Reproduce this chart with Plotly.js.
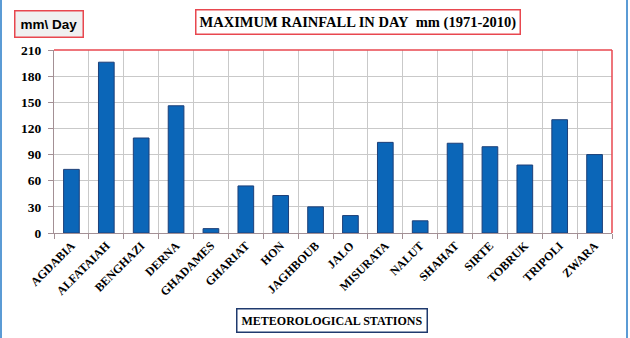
<!DOCTYPE html>
<html>
<head>
<meta charset="utf-8">
<script src="https://cdn.plot.ly/plotly-3.0.1.min.js"></script>
<style>
  html, body { margin: 0; padding: 0; background: #ffffff; }
  #wrap { position: relative; width: 630px; height: 338px; overflow: hidden; }
  #chart { width: 630px; height: 338px; }
  .edge { position: absolute; top: 0; width: 2px; height: 338px; background: #5b9bd5; }
</style>
</head>
<body>
<div id="wrap">
  <div id="chart"></div>
  <div class="edge" style="left:0px"></div>
  <div class="edge" style="left:626px"></div>
</div>
<script>
// Maximum daily rainfall (mm) per meteorological station, 1971-2010
const stations = ["AGDABIA", "ALFATAIAH", "BENGHAZI", "DERNA", "GHADAMES", "GHARIAT",
  "HON", "JAGHBOUB", "JALO", "MISURATA", "NALUT", "SHAHAT", "SIRTE", "TOBRUK",
  "TRIPOLI", "ZWARA"];
const maxRain = [73, 196, 109, 146, 5, 54, 43, 30, 20, 104, 14, 103, 99, 78, 130, 90];
const yTicks = [0, 30, 60, 90, 120, 150, 180, 210];

const serif = "Liberation Serif, Times New Roman, serif";
const gridGray = "#c9c9c9";
const axisGray = "#a39095";
const frameRed = "#e8474f";

const trace = {
  type: "bar",
  x: stations,
  y: maxRain,
  marker: { color: "#0b66b8", line: { color: "#1d3f78", width: 1 } },
  hoverinfo: "x+y"
};

const layout = {
  width: 630,
  height: 338,
  margin: { l: 54, r: 18, t: 50, b: 105 },
  paper_bgcolor: "#ffffff",
  plot_bgcolor: "#ffffff",
  showlegend: false,
  bargap: 0.55,
  xaxis: {
    type: "category",
    tickson: "boundaries",
    ticks: "outside",
    ticklen: 5,
    tickcolor: axisGray,
    showgrid: true,
    gridcolor: gridGray,
    gridwidth: 1,
    showline: true,
    linecolor: axisGray,
    tickangle: -45,
    tickfont: { family: serif, size: 12, color: "#000000", weight: "bold" },
    fixedrange: true
  },
  // secondary axis: gridlines through each category centre
  xaxis2: {
    overlaying: "x",
    anchor: "y",
    range: [-0.5, stations.length - 0.5],
    tick0: 0,
    dtick: 1,
    showgrid: true,
    gridcolor: gridGray,
    gridwidth: 1,
    showticklabels: false,
    ticks: "",
    zeroline: false,
    showline: false,
    fixedrange: true
  },
  yaxis: {
    range: [0, 210],
    tickvals: yTicks,
    ticks: "outside",
    ticklen: 5,
    tickcolor: axisGray,
    ticklabelstandoff: 4,
    showgrid: true,
    gridcolor: gridGray,
    gridwidth: 1,
    showline: true,
    linecolor: axisGray,
    zeroline: false,
    tickfont: { family: serif, size: 13.5, color: "#000000", weight: "bold" },
    fixedrange: true
  },
  shapes: [
    { type: "line", xref: "paper", yref: "paper", x0: 0, x1: 1, y0: 1, y1: 1,
      line: { color: frameRed, width: 1.5 } },
    { type: "line", xref: "paper", yref: "paper", x0: 1, x1: 1, y0: 0, y1: 1,
      line: { color: frameRed, width: 1.5 } }
  ],
  annotations: [
    {
      text: "MAXIMUM RAINFALL IN DAY&nbsp; mm (1971-2010)",
      xref: "paper", yref: "paper", x: 0.544, y: 1.0, yshift: 28,
      xanchor: "center", yanchor: "middle", showarrow: false,
      font: { family: serif, size: 14.5, color: "#000000", weight: "bold" },
      bordercolor: frameRed, borderwidth: 1.5, borderpad: 3, bgcolor: "#ffffff"
    },
    {
      text: "mm\\ Day",
      xref: "paper", yref: "paper", x: -0.071, y: 1.0, yshift: 26,
      xanchor: "left", yanchor: "middle", showarrow: false,
      font: { family: "Liberation Sans, Arial, sans-serif", size: 13.5, color: "#000000", weight: "bold" },
      bordercolor: frameRed, borderwidth: 1.5, borderpad: 5, bgcolor: "#f0f0f0"
    },
    {
      text: "METEOROLOGICAL STATIONS",
      xref: "paper", yref: "paper", x: 0.498, y: 0, yshift: -87,
      xanchor: "center", yanchor: "middle", showarrow: false,
      font: { family: serif, size: 12, color: "#000000", weight: "bold" },
      bordercolor: "#1f3a6e", borderwidth: 1.5, borderpad: 4, bgcolor: "#ffffff"
    }
  ]
};

Plotly.newPlot("chart", [trace], layout, { displayModeBar: false, staticPlot: true });
</script>
</body>
</html>
